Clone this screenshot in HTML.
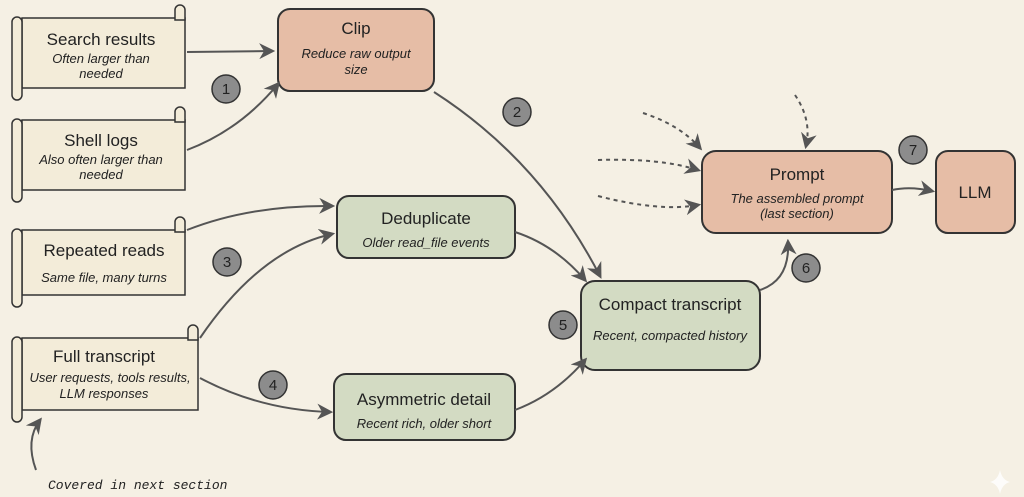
<!DOCTYPE html>
<html><head><meta charset="utf-8"><style>
body{margin:0;background:#f5f0e4;}
svg{display:block}
text{font-family:"Liberation Sans",sans-serif;fill:#222}
.t{font-size:17px}
.s{font-size:13px;font-style:italic}
</style></head><body>
<svg width="1024" height="497" viewBox="0 0 1024 497">
<defs>
<marker id="a" viewBox="0 0 10 10" refX="8" refY="5" markerWidth="8" markerHeight="8" orient="auto"><path d="M0,0 L10,5 L0,10 L3,5z" fill="#555"/></marker>
</defs>
<rect width="1024" height="497" fill="#f5f0e4"/>
<!-- scrolls -->
<g stroke="#333" stroke-width="1.5" fill="#f3ecd9">
<path d="M22,18 H185 V88 H22 Z"/><path d="M12,22 a5,5 0 0 1 10,0 V95 a5,5 0 0 1 -10,0Z"/><path d="M175,10 a5,5 0 0 1 10,0 V20 H175Z"/>
<path d="M22,120 H185 V190 H22 Z"/><path d="M12,124 a5,5 0 0 1 10,0 V197 a5,5 0 0 1 -10,0Z"/><path d="M175,112 a5,5 0 0 1 10,0 V122 H175Z"/>
<path d="M22,230 H185 V295 H22 Z"/><path d="M12,234 a5,5 0 0 1 10,0 V302 a5,5 0 0 1 -10,0Z"/><path d="M175,222 a5,5 0 0 1 10,0 V232 H175Z"/>
<path d="M22,338 H198 V410 H22 Z"/><path d="M12,342 a5,5 0 0 1 10,0 V417 a5,5 0 0 1 -10,0Z"/><path d="M188,330 a5,5 0 0 1 10,0 V340 H188Z"/>
</g>
<text class="t" x="101" y="45" text-anchor="middle">Search results</text>
<text class="s" x="101" y="63" text-anchor="middle">Often larger than</text>
<text class="s" x="101" y="78" text-anchor="middle">needed</text>
<text class="t" x="101" y="146" text-anchor="middle">Shell logs</text>
<text class="s" x="101" y="164" text-anchor="middle">Also often larger than</text>
<text class="s" x="101" y="179" text-anchor="middle">needed</text>
<text class="t" x="104" y="256" text-anchor="middle">Repeated reads</text>
<text class="s" x="104" y="282" text-anchor="middle">Same file, many turns</text>
<text class="t" x="104" y="362" text-anchor="middle">Full transcript</text>
<text class="s" x="110" y="382" text-anchor="middle">User requests, tools results,</text>
<text class="s" x="104" y="398" text-anchor="middle">LLM responses</text>
<!-- boxes -->
<g stroke="#333" stroke-width="2">
<rect x="278" y="9" width="156" height="82" rx="12" fill="#e6bda6"/>
<rect x="337" y="196" width="178" height="62" rx="12" fill="#d3dbc3"/>
<rect x="334" y="374" width="181" height="66" rx="12" fill="#d3dbc3"/>
<rect x="581" y="281" width="179" height="89" rx="14" fill="#d3dbc3"/>
<rect x="702" y="151" width="190" height="82" rx="14" fill="#e6bda6"/>
<rect x="936" y="151" width="79" height="82" rx="12" fill="#e6bda6"/>
</g>
<text class="t" x="356" y="34" text-anchor="middle">Clip</text>
<text class="s" x="356" y="58" text-anchor="middle">Reduce raw output</text>
<text class="s" x="356" y="74" text-anchor="middle">size</text>
<text class="t" x="426" y="224" text-anchor="middle">Deduplicate</text>
<text class="s" x="426" y="247" text-anchor="middle">Older read_file events</text>
<text class="t" x="424" y="405" text-anchor="middle">Asymmetric detail</text>
<text class="s" x="424" y="428" text-anchor="middle">Recent rich, older short</text>
<text class="t" x="670" y="310" text-anchor="middle">Compact transcript</text>
<text class="s" x="670" y="340" text-anchor="middle">Recent, compacted history</text>
<text class="t" x="797" y="180" text-anchor="middle">Prompt</text>
<text class="s" x="797" y="203" text-anchor="middle">The assembled prompt</text>
<text class="s" x="797" y="218" text-anchor="middle">(last section)</text>
<text class="t" x="975" y="198" text-anchor="middle">LLM</text>
<!-- arrows -->
<g stroke="#555" stroke-width="2" fill="none" marker-end="url(#a)">
<path d="M187,52 L272,51"/>
<path d="M187,150 Q240,130 278,84"/>
<path d="M434,92 Q540,160 600,276"/>
<path d="M187,230 Q250,205 332,206"/>
<path d="M200,338 Q260,250 332,234"/>
<path d="M515,232 Q555,245 585,280"/>
<path d="M200,378 Q260,410 330,412"/>
<path d="M515,410 Q555,395 585,360"/>
<path d="M760,290 Q790,280 788,242"/>
<path d="M892,190 Q910,186 932,191"/>
<path d="M36,470 Q25,440 40,420"/>
</g>
<g stroke="#555" stroke-width="2" fill="none" stroke-dasharray="4,4" marker-end="url(#a)">
<path d="M643,113 Q680,125 700,148"/>
<path d="M598,160 Q660,158 698,170"/>
<path d="M598,196 Q660,212 698,205"/>
<path d="M795,95 Q812,120 806,146"/>
</g>
<text x="48" y="489" style="font-size:13px;font-style:italic;font-family:'Liberation Mono',monospace">Covered in next section</text>
<!-- badges -->
<g font-size="15" text-anchor="middle">
<g><circle cx="226" cy="89" r="14" fill="#8c8c8c" stroke="#333" stroke-width="1.5"/><text x="226" y="94">1</text></g>
<g><circle cx="517" cy="112" r="14" fill="#8c8c8c" stroke="#333" stroke-width="1.5"/><text x="517" y="117">2</text></g>
<g><circle cx="227" cy="262" r="14" fill="#8c8c8c" stroke="#333" stroke-width="1.5"/><text x="227" y="267">3</text></g>
<g><circle cx="273" cy="385" r="14" fill="#8c8c8c" stroke="#333" stroke-width="1.5"/><text x="273" y="390">4</text></g>
<g><circle cx="563" cy="325" r="14" fill="#8c8c8c" stroke="#333" stroke-width="1.5"/><text x="563" y="330">5</text></g>
<g><circle cx="806" cy="268" r="14" fill="#8c8c8c" stroke="#333" stroke-width="1.5"/><text x="806" y="273">6</text></g>
<g><circle cx="913" cy="150" r="14" fill="#8c8c8c" stroke="#333" stroke-width="1.5"/><text x="913" y="155">7</text></g>
</g>
<path d="M1000,470 Q1002,480 1010,482 Q1002,484 1000,494 Q998,484 990,482 Q998,480 1000,470Z" fill="#fff" opacity="0.8"/>
</svg>
</body></html>
